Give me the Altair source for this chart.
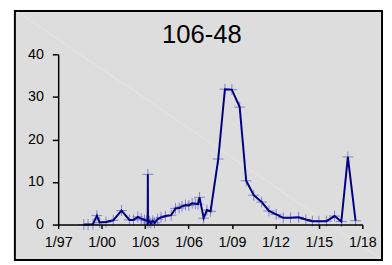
import altair as alt
import pandas as pd

# data (fractional year, value)
years = [1998.77, 1999.06, 1999.40, 1999.67, 1999.86, 2000.30, 2000.80, 2001.37, 2001.92,
         2002.20, 2002.50, 2002.73, 2002.96, 2003.10, 2003.18, 2003.19, 2003.20, 2003.30,
         2003.40, 2003.53, 2003.65, 2003.87, 2004.10, 2004.40, 2004.80, 2005.10, 2005.35,
         2005.55, 2005.79, 2006.02, 2006.25, 2006.47, 2006.65, 2006.76, 2007.04, 2007.27,
         2007.52, 2008.05, 2008.51, 2008.99, 2009.53, 2009.98, 2010.50, 2011.05, 2011.55,
         2012.05, 2012.54, 2013.04, 2013.60, 2014.10, 2014.55, 2015.00, 2015.52, 2016.08,
         2016.55, 2017.00, 2017.53]
values = [0.0, 0.0, 0.1, 2.1, 0.5, 0.6, 1.0, 3.3, 1.1,
          1.1, 1.8, 1.4, 1.1, 0.9, 1.0, 11.8, 0.4, 0.8,
          0.3, 0.9, 0.4, 1.3, 1.7, 2.0, 2.2, 3.8, 3.9,
          4.3, 4.6, 4.5, 5.0, 4.9, 4.8, 6.4, 1.5, 3.4,
          3.1, 15.4, 31.8, 31.7, 27.6, 10.3, 6.9, 5.3, 3.2,
          2.4, 1.6, 1.6, 1.7, 1.2, 0.8, 0.8, 0.8, 2.0,
          0.7, 15.9, 0.9]

tick_years = [1997, 2000, 2003, 2006, 2009, 2012, 2015, 2018]
tick_labels = ["1/97", "1/00", "1/03", "1/06", "1/09", "1/12", "1/15", "1/18"]
y_ticks = [0, 10, 20, 30, 40]
title_text = "106-48"

df = pd.DataFrame({"year": years, "value": values})

label_expr = ""
for yv, lab in zip(tick_years, tick_labels):
    label_expr += f"datum.value == {yv} ? '{lab}' : "
label_expr += "''"

FONT = "Liberation Sans"

x_enc = alt.X("year:Q", scale=alt.Scale(domain=[1997, 2018], nice=False, zero=False),
              axis=alt.Axis(values=tick_years, labelExpr=label_expr, title=None, grid=False,
                            domainColor="black", domainWidth=1.5, tickColor="black",
                            tickWidth=1.5, tickSize=4, labelPadding=7, labelFont=FONT,
                            labelFontSize=14.5, labelColor="black", zindex=1,
                            labelFlush=False, labelOverlap=False))
y_enc = alt.Y("value:Q", scale=alt.Scale(domain=[0, 40], nice=False),
              axis=alt.Axis(values=y_ticks, title=None, grid=False, domainColor="black",
                            domainWidth=1.5, tickColor="black", tickWidth=1.5, tickSize=6,
                            labelPadding=9, labelFont=FONT, labelFontSize=14.5,
                            labelColor="black", zindex=1))

one = alt.Data(values=[{"k": 1}])

frame = alt.Chart(one).mark_rect(fill="#dddddd", stroke="black", strokeWidth=2).encode(
    x=alt.value(-44), x2=alt.value(329), y=alt.value(-44), y2=alt.value(209))

diag = alt.Chart(one).mark_rule(color="#e6e6e6", strokeWidth=1).encode(
    x=alt.value(-41), y=alt.value(-43), x2=alt.value(327), y2=alt.value(207))

title = alt.Chart(one).mark_text(text=title_text, font=FONT, fontSize=26, color="black",
                                 align="center", baseline="alphabetic").encode(
    x=alt.value(146), y=alt.value(-11))

line = alt.Chart(df).mark_line(color="#000080", strokeWidth=2).encode(x=x_enc, y=y_enc)
points = alt.Chart(df).mark_point(shape="M-1,0L1,0M0,-1L0,1", size=121, filled=False,
                                  stroke="#5a5ac8", strokeWidth=1, opacity=0.7).encode(
    x="year:Q", y="value:Q")

chart = alt.layer(frame, diag, points, line, title).properties(
    width=309, height=173,
    padding={"left": 51, "top": 45, "right": 22, "bottom": 37},
    autosize=alt.AutoSizeParams(type="none"),
    background="white",
).configure_view(strokeWidth=0)

chart.save("out.html", embed_options={"renderer": "svg", "actions": False})
